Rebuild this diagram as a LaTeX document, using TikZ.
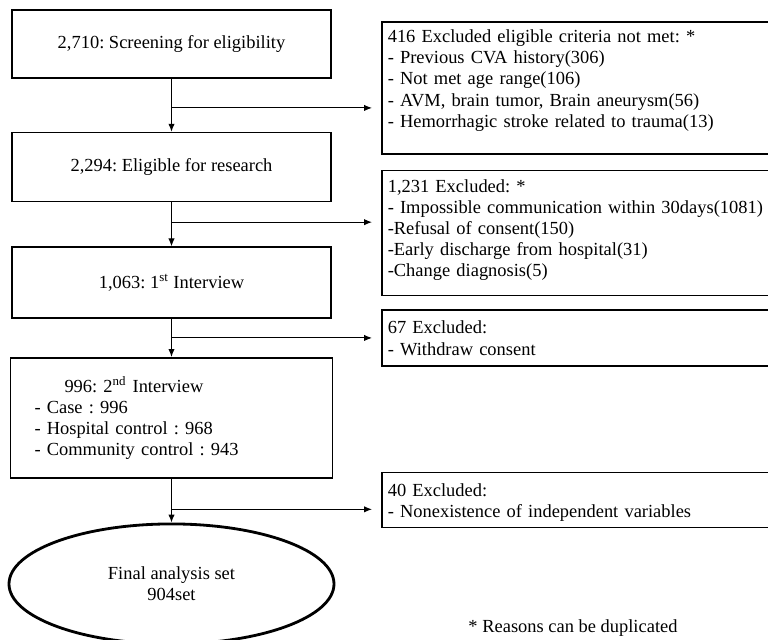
\documentclass[tikz,border=0pt]{standalone}
\usepackage{fontspec}
\setmainfont{Liberation Serif}
\usepackage{tikz}
\usetikzlibrary{positioning,shapes.geometric,arrows.meta,calc}
\frenchspacing

\begin{document}
\begin{tikzpicture}[
  every node/.style={font=\fontsize{10.5}{12}\selectfont},
  stage/.style ={draw, line width=0.9pt, minimum width=6.38cm, align=center},
  excl/.style  ={draw, line width=0.9pt, anchor=north west, text width=7.54cm,
                 align=left, inner xsep=0.12cm, inner ysep=0pt},
  goal/.style  ={draw, line width=1.6pt, ellipse, minimum width=6.5cm,
                 minimum height=2.4cm, inner sep=0pt, align=center},
  arr/.style   ={->, line width=0.6pt},
  >={Latex[length=4.5pt,width=3.6pt]},
  node distance=0.9cm
]
\useasboundingbox (0,0) rectangle (15.36,-12.8);

%% ---- Main flow (left column) -------------------------------------
\node[stage, minimum height=1.36cm] (screen) at (3.43,-0.88)
     {2,710: Screening for eligibility};
\node[stage, minimum height=1.38cm, below=1.06 of screen] (elig)
     {2,294: Eligible for research};
\node[stage, minimum height=1.42cm, below=0.88 of elig] (intv1)
     {1,063: 1\textsuperscript{st} Interview};
\node[stage, minimum height=2.4cm, text width=5.48cm, inner xsep=0.48cm,
      align=left, below=0.76 of intv1] (intv2)
     {\hspace*{0.6cm}996: 2\textsuperscript{nd} Interview\\
      - Case : 996\\
      - Hospital control : 968\\
      - Community control : 943};
\node[goal, below=0.88 of intv2] (final)
     {Final analysis set\\904set};

%% ---- Exclusions (right column) -----------------------------------
\node[excl, text height=0.42cm, text depth=2.22cm] (excl1) at (7.62,-0.42)
     {416 Excluded eligible criteria not met: *\\
      - Previous CVA history(306)\\
      - Not met age range(106)\\
      - AVM, brain tumor, Brain aneurysm(56)\\
      - Hemorrhagic stroke related to trauma(13)};
\node[excl, text height=0.44cm, text depth=2.06cm,
      below=0.3 of excl1.south west, anchor=north west] (excl2)
     {1,231 Excluded: *\\
      - Impossible communication within 30days(1081)\\
      -Refusal of consent(150)\\
      -Early discharge from hospital(31)\\
      -Change diagnosis(5)};
\node[excl, text height=0.48cm, text depth=0.64cm,
      below=0.26 of excl2.south west, anchor=north west] (excl3)
     {67 Excluded:\\
      - Withdraw consent};
\node[excl, text height=0.48cm, text depth=0.62cm,
      below=2.1 of excl3.south west, anchor=north west] (excl4)
     {40 Excluded:\\
      - Nonexistence of independent variables};

%% ---- Footnote ----------------------------------------------------
\node[anchor=base] (note) at (11.46,-12.64) {* Reasons can be duplicated};

%% ---- Main flow arrows --------------------------------------------
\draw[arr] (screen) -- (elig);
\draw[arr] (elig)   -- (intv1);
\draw[arr] (intv1)  -- (intv2);
\draw[arr] (intv2)  -- (final);

%% ---- Branch arrows -----------------------------------------------
\coordinate (b1) at ($(screen.south)!0.55!(elig.north)$);
\coordinate (b2) at ($(elig.south)!0.45!(intv1.north)$);
\coordinate (b3) at ($(intv1.south)!0.5!(intv2.north)$);
\coordinate (b4) at ($(intv2.south)!0.7!(final.north)$);
\draw[arr, shorten >=0.18cm] (b1) -- (b1 -| excl1.west);
\draw[arr, shorten >=0.18cm] (b2) -- (b2 -| excl2.west);
\draw[arr, shorten >=0.18cm] (b3) -- (b3 -| excl3.west);
\draw[arr, shorten >=0.18cm] (b4) -- (b4 -| excl4.west);

\end{tikzpicture}
\end{document}
